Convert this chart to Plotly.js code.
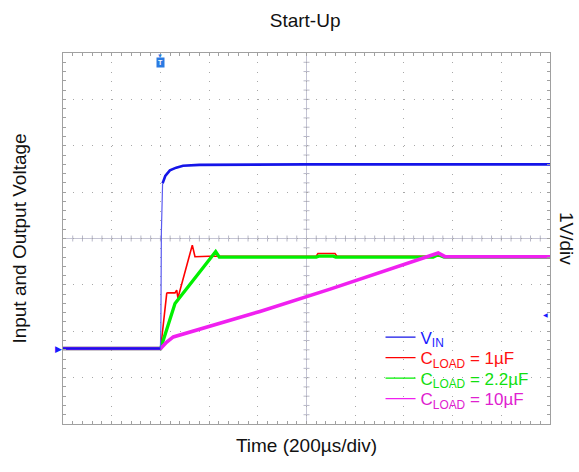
<!DOCTYPE html>
<html>
<head>
<meta charset="utf-8">
<script src="https://cdn.plot.ly/plotly-3.0.1.min.js"></script>
<style>html,body{margin:0;padding:0;background:#fff;}#chart{width:579px;height:472px;}</style>
</head>
<body>
<div id="chart"></div>
<script>
// ---- data (time in µs, 200 µs/div; voltage in V, 1 V/div) ----
const vinTime  = [0, 400, 402, 404, 406, 409, 420, 439, 465, 493, 560, 1000, 2000];
const vinVolt  = [0, 0, 0.5, 2.5, 3.3, 3.56, 3.72, 3.84, 3.9, 3.94, 3.96, 3.97, 3.97];

const c1Time   = [0, 400, 401, 426, 430, 460, 467, 472, 531, 542, 600, 1040, 1047, 1060, 1117, 1125, 2000];
const c1Volt   = [0, 0, 0, 1.19, 1.2, 1.2, 1.26, 1.09, 2.23, 1.98, 1.99, 1.99, 2.05, 2.05, 2.05, 1.99, 1.99];

const c22Time  = [0, 400, 401, 460, 627, 642, 1040, 1050, 1110, 1120, 1520, 1540, 1565, 2000];
const c22Volt  = [0, 0, 0, 0.97, 2.09, 1.97, 1.97, 1.99, 1.99, 1.97, 1.97, 2.02, 1.97, 1.97];

const c10Time  = [0, 400, 401, 426, 453, 809, 1097, 1541, 1569, 2000];
const c10Volt  = [0, 0, 0, 0.14, 0.25, 0.80, 1.28, 2.06, 1.98, 1.98];

const seriesNames = ['V<sub>IN</sub>', 'C<sub>LOAD</sub> = 1µF', 'C<sub>LOAD</sub> = 2.2µF', 'C<sub>LOAD</sub> = 10µF'];
const chartTitle = 'Start-Up';
const xTitle = 'Time (200µs/div)';
const yTitle = 'Input and Output Voltage';
const scaleLabel = '1V/div';
const triggerTime = [400];
const markerRight = [1983, 0.72];

// ---- layout constants ----
const xRange = [0, 2000];
const yRange = [-1.628, 6.372];
const xCenter = 1000;
const yCenter = (yRange[0] + yRange[1]) / 2;
const FONT = 'Arial, "Liberation Sans", sans-serif';
const COL = {vin: '#1515e8', vinEdge: '#5a5af0', c1: '#ff0000', c22: '#00f000', c10: '#f020f0'};
const LEG = {vin: '#1a1aff', c1: '#ff1010', c22: '#10e010', c10: '#e020d0'};

function lbl(t, c){ return '<span style="color:' + c + '">' + t + '</span>'; }

const traces = [
  {x: c1Time, y: c1Volt, mode: 'lines', showlegend: false, line: {color: COL.c1, width: 1.6}},
  {x: c22Time, y: c22Volt, mode: 'lines', showlegend: false, line: {color: COL.c22, width: 3.3}},
  {x: c10Time, y: c10Volt, mode: 'lines', showlegend: false, line: {color: COL.c10, width: 3.6}},
  // VIN: flat parts thick, fast edge thin (as the scope draws it)
  {x: vinTime.slice(0, 2), y: vinVolt.slice(0, 2), mode: 'lines', showlegend: false, line: {color: COL.vin, width: 2.6}},
  {x: vinTime.slice(1, 6), y: vinVolt.slice(1, 6), mode: 'lines', showlegend: false, line: {color: COL.vinEdge, width: 1.2}},
  {x: vinTime.slice(5), y: vinVolt.slice(5), mode: 'lines', showlegend: false, line: {color: COL.vin, width: 2.6}},
  // legend entries (thin key lines, as in the reference), one legend per row for tight spacing
  {x: [null], y: [null], mode: 'lines', name: lbl(seriesNames[0], LEG.vin), line: {color: COL.vin, width: 1.3}, legend: 'legend'},
  {x: [null], y: [null], mode: 'lines', name: lbl(seriesNames[1], LEG.c1), line: {color: COL.c1, width: 1.3}, legend: 'legend2'},
  {x: [null], y: [null], mode: 'lines', name: lbl(seriesNames[2], LEG.c22), line: {color: COL.c22, width: 1.3}, legend: 'legend3'},
  {x: [null], y: [null], mode: 'lines', name: lbl(seriesNames[3], LEG.c10), line: {color: COL.c10, width: 1.3}, legend: 'legend4'}
];

// center cross lines with small ticks
const shapes = [
  {type: 'line', xref: 'x', yref: 'paper', x0: xCenter, x1: xCenter, y0: 0, y1: 1, line: {color: '#c4c4d4', width: 1}, layer: 'below'},
  {type: 'line', xref: 'paper', yref: 'y', x0: 0, x1: 1, y0: yCenter, y1: yCenter, line: {color: '#c4c4d4', width: 1}, layer: 'below'}
];
for (let t = xRange[0] + 40; t < xRange[1]; t += 40) {
  shapes.push({type: 'line', xref: 'x', yref: 'y', ysizemode: 'pixel', yanchor: yCenter, x0: t, x1: t, y0: -3, y1: 3, line: {color: '#b8b8c8', width: 1}, layer: 'below'});
}
for (let v = yRange[0] + 0.2; v < yRange[1] - 0.01; v += 0.2) {
  shapes.push({type: 'line', xref: 'x', yref: 'y', xsizemode: 'pixel', xanchor: xCenter, x0: -3, x1: 3, y0: v, y1: v, line: {color: '#b8b8c8', width: 1}, layer: 'below'});
}

function legendAt(y) {
  return {x: 0.652, xanchor: 'left', y: y, yanchor: 'middle', bgcolor: 'rgba(0,0,0,0)', borderwidth: 0,
          font: {family: FONT, size: 17}, itemwidth: 30};
}

const layout = {
  width: 579, height: 472,
  margin: {l: 63, r: 29, t: 53, b: 48},
  paper_bgcolor: '#ffffff', plot_bgcolor: '#ffffff',
  font: {family: FONT, color: '#111111', size: 20},
  title: {text: chartTitle, font: {family: FONT, size: 19, color: '#111'}, x: 0.527, xanchor: 'center', y: 1 - 20/472, yanchor: 'middle', yref: 'container', xref: 'container'},
  showlegend: true,
  legend: legendAt(0.2332),
  legend2: legendAt(0.1779),
  legend3: legendAt(0.1226),
  legend4: legendAt(0.0674),
  xaxis: {range: xRange, dtick: 200, tick0: 0, showticklabels: false, zeroline: false,
          showgrid: true, gridcolor: '#a8a8a8', gridwidth: 1, griddash: '1px,8.28px',
          ticks: 'inside', ticklen: 3, tickcolor: '#a0a0a0', showline: true, linecolor: '#a0a0a0', linewidth: 1, mirror: 'ticks',
          minor: {dtick: 40, tick0: 0, ticks: 'inside', ticklen: 3, tickcolor: '#a0a0a0', showgrid: false},
          title: {text: xTitle, font: {family: FONT, size: 19}, standoff: 14}, fixedrange: true},
  yaxis: {range: yRange, dtick: 1, tick0: yRange[0], showticklabels: false, zeroline: false,
          showgrid: true, gridcolor: '#a8a8a8', gridwidth: 1, griddash: '1px,8.74px',
          ticks: 'inside', ticklen: 3, tickcolor: '#a0a0a0', showline: true, linecolor: '#a0a0a0', linewidth: 1, mirror: 'ticks',
          minor: {dtick: 0.2, tick0: yRange[0], ticks: 'inside', ticklen: 3, tickcolor: '#a0a0a0', showgrid: false},
          title: {text: yTitle, font: {family: FONT, size: 19}, standoff: 30}, fixedrange: true},
  shapes: shapes,
  annotations: [
    {text: scaleLabel, xref: 'paper', yref: 'paper', x: 1.034, y: 0.5, xanchor: 'center', yanchor: 'middle', textangle: 90, showarrow: false, font: {family: FONT, size: 19, color: '#111'}},
    {text: '▶', xref: 'paper', yref: 'y', x: 0, y: 0, xanchor: 'right', yanchor: 'middle', showarrow: false, font: {size: 9, color: '#1a1aff'}, xshift: 1},
    {text: '◀', xref: 'x', yref: 'y', x: markerRight[0], y: markerRight[1], xanchor: 'center', yanchor: 'middle', showarrow: false, font: {size: 6, color: '#1a1aff'}},
    {text: '▼', xref: 'x', yref: 'paper', x: triggerTime[0], y: 1, xanchor: 'center', yanchor: 'top', showarrow: false, font: {size: 6, color: '#2a7ae2'}, yshift: 2},
    {text: '<b>T</b>', xref: 'x', yref: 'paper', x: triggerTime[0], y: 1, xanchor: 'center', yanchor: 'top', showarrow: false, font: {size: 7, color: '#ffffff'}, bgcolor: '#2a7ae2', borderpad: 1, yshift: -4}
  ]
};

Plotly.newPlot('chart', traces, layout, {staticPlot: true, displayModeBar: false});
</script>
</body>
</html>
